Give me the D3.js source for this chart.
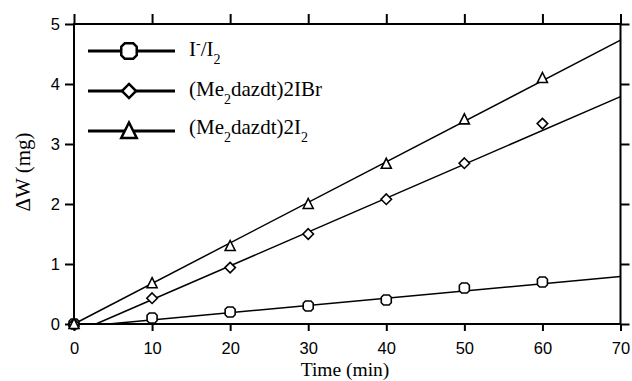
<!DOCTYPE html>
<html>
<head>
<meta charset="utf-8">
<script src="https://cdn.jsdelivr.net/npm/d3@7"></script>
<style>
  body { margin: 0; background: #fff; }
  .tick text { font-family: "Liberation Sans", Arial, sans-serif; font-size: 16.5px; fill: #000; }
  .lbl { font-family: "Liberation Serif", "Times New Roman", serif; fill: #000; }
</style>
</head>
<body>
<svg id="chart" width="632" height="381"></svg>
<script>
// measured points, time in minutes, weight gain in mg
const times = [0, 10, 20, 30, 40, 50, 60]
const iodide = [0, 0.1, 0.2, 0.3, 0.4, 0.6, 0.7]
const ibr = [0, 0.43, 0.94, 1.5, 2.08, 2.68, 3.34]
const i2 = [0, 0.68, 1.3, 2.0, 2.67, 3.41, 4.1]

// fitted lines [start, end] as [time, dW]
const iodideFit = [[4.4, 0], [70, 0.79]]
const ibrFit = [[2.8, 0], [70, 3.79]]
const i2Fit = [[0, 0], [70, 4.73]]

const xTicks = [0, 10, 20, 30, 40, 50, 60, 70]
const yTicks = [0, 1, 2, 3, 4, 5]

const margin = { top: 24, right: 11.5, bottom: 57, left: 74 }
const width = 632 - margin.left - margin.right
const height = 381 - margin.top - margin.bottom

const svg = d3.select('#chart')

const xScale = d3.scaleLinear().domain([0, 70]).range([margin.left, margin.left + width])
const yScale = d3.scaleLinear().domain([0, 5]).range([margin.top + height, margin.top])

// octagon-ish marker used for the I-/I2 series
const octagon = {
  draw(ctx, size) {
    const r = Math.sqrt(size) / 2
    const c = r * 0.45
    ctx.moveTo(-r + c, -r)
    ctx.lineTo(r - c, -r)
    ctx.lineTo(r, -r + c)
    ctx.lineTo(r, r - c)
    ctx.lineTo(r - c, r)
    ctx.lineTo(-r + c, r)
    ctx.lineTo(-r, r - c)
    ctx.lineTo(-r, -r + c)
    ctx.closePath()
  }
}
const triangle = {
  draw(ctx, size) {
    const r = Math.sqrt(size) / 2
    ctx.moveTo(0, -r * 1.1)
    ctx.lineTo(r, r * 0.9)
    ctx.lineTo(-r, r * 0.9)
    ctx.closePath()
  }
}
const diamond = {
  draw(ctx, size) {
    const r = Math.sqrt(size) / 2
    ctx.moveTo(0, -r)
    ctx.lineTo(r, 0)
    ctx.lineTo(0, r)
    ctx.lineTo(-r, 0)
    ctx.closePath()
  }
}

const series = [
  { values: iodide, fit: iodideFit, shape: octagon, size: 100, legSize: 240 },
  { values: ibr, fit: ibrFit, shape: diamond, size: 110, legSize: 200 },
  { values: i2, fit: i2Fit, shape: triangle, size: 100, legSize: 240 }
]

// axes
const leftAxis = d3.axisLeft(yScale).tickValues(yTicks).tickFormat(d3.format('d')).tickSize(9).tickPadding(5).tickSizeOuter(0)
const rightAxis = d3.axisRight(yScale).tickValues(yTicks).tickSize(9).tickFormat('').tickSizeOuter(0)
const bottomAxis = d3.axisBottom(xScale).tickValues(xTicks).tickFormat(d3.format('d')).tickSize(7).tickPadding(11).tickSizeOuter(0)
const topAxis = d3.axisTop(xScale).tickValues(xTicks).tickSize(10).tickFormat('').tickSizeOuter(0)

const axes = [
  [leftAxis, `translate(${margin.left},0)`],
  [rightAxis, `translate(${margin.left + width},0)`],
  [bottomAxis, `translate(0,${margin.top + height})`],
  [topAxis, `translate(0,${margin.top})`]
]
axes.forEach(([ax, tr]) => {
  const g = svg.append('g').attr('transform', tr).call(ax)
  g.select('.domain').remove()
  g.selectAll('.tick line').attr('stroke', '#000').attr('stroke-width', 2)
})

svg.append('rect')
  .attr('x', margin.left)
  .attr('y', margin.top)
  .attr('width', width)
  .attr('height', height)
  .attr('fill', 'none')
  .attr('stroke', '#000')
  .attr('stroke-width', 2)

// fit lines
const line = d3.line().x(d => xScale(d[0])).y(d => yScale(d[1]))
svg.append('g')
  .selectAll('path')
  .data(series)
  .join('path')
  .attr('d', d => line(d.fit))
  .attr('fill', 'none')
  .attr('stroke', '#000')
  .attr('stroke-width', 1.5)

// markers
series.forEach(s => {
  svg.append('g')
    .selectAll('path')
    .data(s.values)
    .join('path')
    .attr('transform', (d, i) => `translate(${xScale(times[i])},${yScale(d)})`)
    .attr('d', d3.symbol(s.shape, s.size))
    .attr('fill', '#fff')
    .attr('stroke', '#000')
    .attr('stroke-width', 1.6)
})

// axis titles
svg.append('text')
  .attr('class', 'lbl')
  .attr('x', 345)
  .attr('y', 376)
  .attr('text-anchor', 'middle')
  .attr('font-size', 19.5)
  .text('Time (min)')

svg.append('text')
  .attr('class', 'lbl')
  .attr('transform', 'translate(30,172) rotate(-90)')
  .attr('text-anchor', 'middle')
  .attr('font-size', 21)
  .text('ΔW (mg)')

// legend
const legendRows = [51, 91, 131]
const legend = svg.append('g')
series.forEach((s, i) => {
  const y = legendRows[i]
  legend.append('line')
    .attr('x1', 88).attr('x2', 175)
    .attr('y1', y).attr('y2', y)
    .attr('stroke', '#000').attr('stroke-width', 3)
  legend.append('path')
    .attr('transform', `translate(129,${y})`)
    .attr('d', d3.symbol(s.shape, s.legSize))
    .attr('fill', '#fff')
    .attr('stroke', '#000')
    .attr('stroke-width', 2.5)
})

const t1 = legend.append('text').attr('class', 'lbl').attr('x', 189).attr('y', 56).attr('font-size', 21)
t1.append('tspan').text('I')
t1.append('tspan').attr('font-size', 14).attr('dy', -8).text('-')
t1.append('tspan').attr('dy', 8).text('/I')
t1.append('tspan').attr('font-size', 14).attr('dy', 8).text('2')

const t2 = legend.append('text').attr('class', 'lbl').attr('x', 189).attr('y', 96).attr('font-size', 21)
t2.append('tspan').text('(Me')
t2.append('tspan').attr('font-size', 14).attr('dy', 8).text('2')
t2.append('tspan').attr('dy', -8).text('dazdt)2IBr')

const t3 = legend.append('text').attr('class', 'lbl').attr('x', 189).attr('y', 134).attr('font-size', 21)
t3.append('tspan').text('(Me')
t3.append('tspan').attr('font-size', 14).attr('dy', 8).text('2')
t3.append('tspan').attr('dy', -8).text('dazdt)2I')
t3.append('tspan').attr('font-size', 14).attr('dy', 8).text('2')
</script>
</body>
</html>
